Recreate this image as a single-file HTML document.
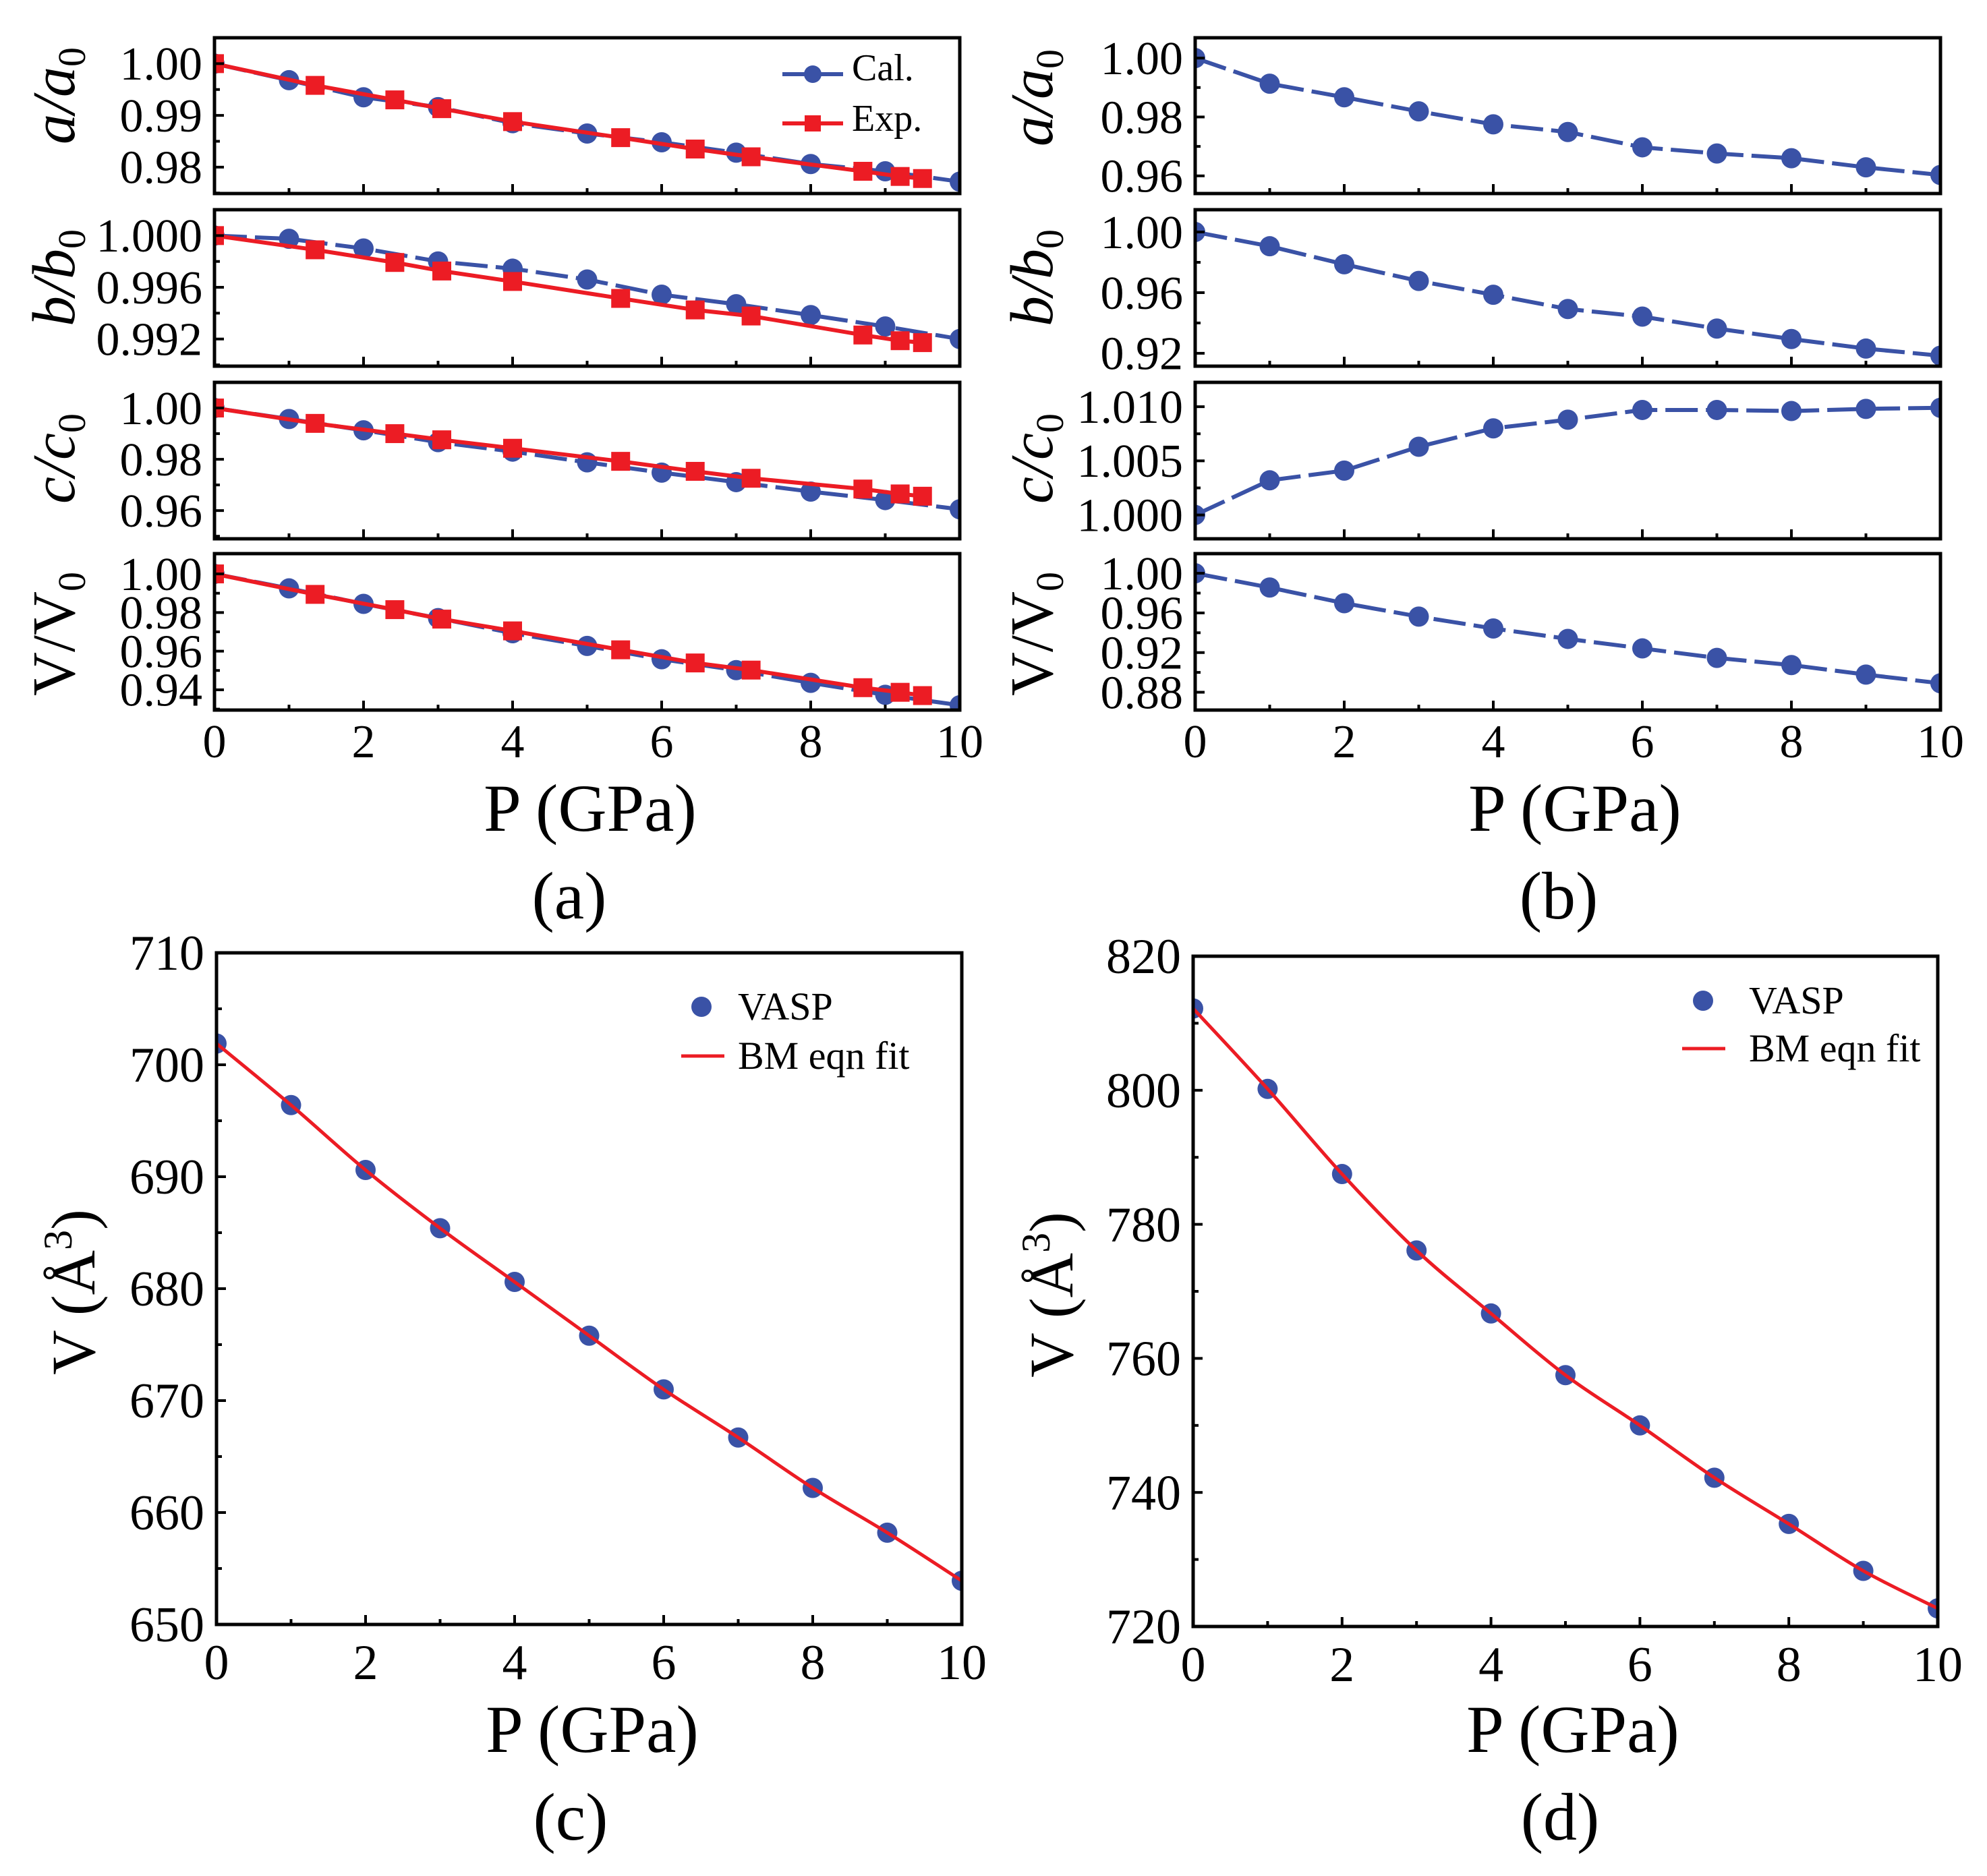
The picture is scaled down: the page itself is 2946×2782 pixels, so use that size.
<!DOCTYPE html>
<html><head><meta charset="utf-8">
<style>
html,body{margin:0;padding:0;background:#fff;}
svg{display:block;font-family:"Liberation Serif","DejaVu Serif",serif;}
</style></head>
<body>
<svg id="fig" width="2946" height="2782" viewBox="0 0 2946 2782" xmlns="http://www.w3.org/2000/svg"></svg>
<script>
// ---- data ----
const xCal = [0,1,2,3,4,5,6,7,8,9,10];
const xExp = [0,1.35,2.42,3.05,4.0,5.45,6.45,7.2,8.7,9.2,9.5];
const aCal = [1.000,0.9968,0.9935,0.9916,0.9885,0.9865,0.9848,0.9828,0.9806,0.9792,0.9772];
const aExp = [1.000,0.9958,0.9930,0.9913,0.9888,0.9857,0.9835,0.9820,0.9792,0.9782,0.9778];
const bCal = [1.000,0.99975,0.9990,0.9980,0.99744,0.9966,0.99543,0.99469,0.99385,0.99297,0.9920];
const bExp = [1.000,0.9989,0.99792,0.99726,0.99645,0.99514,0.99425,0.99378,0.99231,0.99187,0.99172];
const cCal = [1.000,0.9957,0.9913,0.9867,0.9830,0.9788,0.9748,0.9711,0.9674,0.9641,0.9605];
const cExp = [1.000,0.9940,0.9900,0.9876,0.9843,0.9792,0.9753,0.9726,0.9684,0.9665,0.9656];
const vCal = [1.000,0.9925,0.9845,0.9771,0.9693,0.9627,0.9558,0.9502,0.9436,0.9374,0.9320];
const vExp = [1.000,0.9894,0.9815,0.9766,0.9705,0.9607,0.9539,0.9502,0.9411,0.9387,0.9370];
const a2Cal = [1.000,0.9913,0.9867,0.9819,0.9775,0.9749,0.9697,0.9676,0.9660,0.9629,0.9603];
const b2Cal = [1.000,0.9906,0.9787,0.9677,0.9586,0.9492,0.9442,0.9363,0.9294,0.9231,0.9184];
const c2Cal = [1.000,1.0032,1.0041,1.0063,1.0080,1.0088,1.0097,1.0097,1.0096,1.0098,1.0099];
const v2Cal = [1.000,0.9856,0.9698,0.9563,0.9443,0.9338,0.9242,0.9146,0.9074,0.8978,0.8890];
const volC = [701.9,696.4,690.6,685.4,680.6,675.8,671.0,666.7,662.2,658.2,653.9];
const volD = [812.2,800.2,787.5,776.1,766.7,757.5,750.0,742.2,735.3,728.3,722.7];
const xTicks = [0,2,4,6,8,10];
const xTickLabels = ["0","2","4","6","8","10"];

const NS = "http://www.w3.org/2000/svg";
const svg = document.getElementById('fig');
const BLUE = "#3a52a6", RED = "#ec1c24";
function el(tag, attrs, parent){
  const e = document.createElementNS(NS, tag);
  for (const k in attrs) e.setAttribute(k, attrs[k]);
  (parent||svg).appendChild(e);
  return e;
}
function smoothPath(pts){
  let d = "M"+pts[0][0]+","+pts[0][1];
  for (let i=0;i<pts.length-1;i++){
    const p0=pts[Math.max(i-1,0)], p1=pts[i], p2=pts[i+1], p3=pts[Math.min(i+2,pts.length-1)];
    const c1x=p1[0]+(p2[0]-p0[0])/6, c1y=p1[1]+(p2[1]-p0[1])/6;
    const c2x=p2[0]-(p3[0]-p1[0])/6, c2y=p2[1]-(p3[1]-p1[1])/6;
    d += " C"+c1x+","+c1y+" "+c2x+","+c2y+" "+p2[0]+","+p2[1];
  }
  return d;
}

function panel(cfg){
  const g = el('g', {});
  
  
  const X = v => cfg.x0 + (v-0)/(10-0)*(cfg.x1-cfg.x0);
  const Y = v => cfg.y1 - (v-cfg.ymin)/(cfg.ymax-cfg.ymin)*(cfg.y1-cfg.y0);
  const clipId = 'clip-'+cfg.name;
  const cp = el('clipPath', {id: clipId}, g);
  el('rect', {x:cfg.x0, y:cfg.y0, width:cfg.x1-cfg.x0, height:cfg.y1-cfg.y0}, cp);
  const plot = el('g', {'clip-path':'url(#'+clipId+')'}, g);
  (cfg.series||[]).forEach(s=>{
    const pts = s.x.map((xv,i)=>[X(xv),Y(s.y[i])]);
    const sg = el('g', {}, plot);
    
    
    if (s.line){
      const ln = el('path', {d: s.smooth? smoothPath(pts) : "M"+pts.map(p=>p.join(",")).join(" L"), fill:'none', stroke:s.color, 'stroke-width':s.lw||6, 'stroke-dasharray': s.dash||'none'}, sg);
      
      
    }
    if (s.marker){
      pts.forEach(p=>{
        let m;
        if (s.marker==='circle') m = el('circle', {cx:p[0], cy:p[1], r:s.ms||15, fill:s.color}, sg);
        else m = el('rect', {x:p[0]-(s.ms||14), y:p[1]-(s.ms||14), width:2*(s.ms||14), height:2*(s.ms||14), fill:s.color}, sg);
        
        
      });
    }
  });
  const fr = el('rect', {x:cfg.x0, y:cfg.y0, width:cfg.x1-cfg.x0, height:cfg.y1-cfg.y0, fill:'none', stroke:'#000', 'stroke-width':5}, g);
  
  
  for (let v=0; v<=10; v++){
    const len = (v%2===0)?14:8;
    el('line', {x1:X(v), x2:X(v), y1:cfg.y1, y2:cfg.y1-len, stroke:'#000', 'stroke-width':4}, g);
  }
  if (cfg.xlabels){
    xTicks.forEach((v,i)=>{
      const t = el('text', {x:X(v), y:cfg.xlabY, 'font-size':cfg.tickFs, 'text-anchor':'middle'}, g);
      t.textContent = xTickLabels[i];
      
      
    });
  }
  cfg.yMajor.forEach((v,i)=>{
    el('line', {x1:cfg.x0, x2:cfg.x0+14, y1:Y(v), y2:Y(v), stroke:'#000', 'stroke-width':4}, g);
    const t = el('text', {x:cfg.x0-18, y:Y(v)+cfg.tickFs*0.34, 'font-size':cfg.tickFs, 'text-anchor':'end'}, g);
    t.textContent = cfg.yLabels[i];
    
    
  });
  (cfg.yMinor||[]).forEach(v=>{
    el('line', {x1:cfg.x0, x2:cfg.x0+8, y1:Y(v), y2:Y(v), stroke:'#000', 'stroke-width':4}, g);
  });
  const yt = el('text', {x:0, y:0, 'font-size':cfg.titleFs, 'text-anchor':'middle', transform:'translate('+cfg.ytX+','+cfg.ytY+') rotate(-90)'}, g);
  yt.innerHTML = cfg.ytitle;
  
  
  return g;
}

const LX0=318, LX1=1423, RX0=1772, RX1=2877;
const rows = [[56,287],[311,543],[567,799],[821,1053]];
const TFS = 70;
const it = s => '<tspan font-style="italic">'+s+'</tspan>';
const sub = s => '<tspan font-size="58" dy="16">'+s+'</tspan>';

function calS(y, name){ return {name:name, x:xCal, y:y, color:BLUE, line:true, dash:'48 12', marker:'circle', ms:15, lw:6}; }
function expS(y, name){ return {name:name, x:xExp, y:y, color:RED, line:true, marker:'square', ms:14, lw:6}; }

panel({name:'panel-a-a', x0:LX0,x1:LX1,y0:rows[0][0],y1:rows[0][1], ymin:0.9749, ymax:1.0050,
  yMajor:[1.00,0.99,0.98], yLabels:["1.00","0.99","0.98"], yMinor:[0.995,0.985,0.975],
  tickFs:TFS, titleFs:90, ytX:110, ytY:142, ytitle: it('a/a')+sub('0'),
  series:[calS(aCal,'cal-a'), expS(aExp,'exp-a')]});
panel({name:'panel-a-b', x0:LX0,x1:LX1,y0:rows[1][0],y1:rows[1][1], ymin:0.9899, ymax:1.0020,
  yMajor:[1.000,0.996,0.992], yLabels:["1.000","0.996","0.992"], yMinor:[0.998,0.994,0.990],
  tickFs:TFS, titleFs:90, ytX:110, ytY:412, ytitle: it('b/b')+sub('0'),
  series:[calS(bCal,'cal-b'), expS(bExp,'exp-b')]});
panel({name:'panel-a-c', x0:LX0,x1:LX1,y0:rows[2][0],y1:rows[2][1], ymin:0.949, ymax:1.010,
  yMajor:[1.00,0.98,0.96], yLabels:["1.00","0.98","0.96"], yMinor:[0.99,0.97,0.95],
  tickFs:TFS, titleFs:90, ytX:110, ytY:680, ytitle: it('c/c')+sub('0'),
  series:[calS(cCal,'cal-c'), expS(cExp,'exp-c')]});
panel({name:'panel-a-v', x0:LX0,x1:LX1,y0:rows[3][0],y1:rows[3][1], ymin:0.9295, ymax:1.0105,
  yMajor:[1.00,0.98,0.96,0.94], yLabels:["1.00","0.98","0.96","0.94"], yMinor:[0.99,0.97,0.95,0.93],
  tickFs:TFS, titleFs:90, ytX:110, ytY:940, ytitle: 'V/V'+sub('0'),
  series:[calS(vCal,'cal-v'), expS(vExp,'exp-v')], xlabels:true, xlabY:1123});

panel({name:'panel-b-a', x0:RX0,x1:RX1,y0:rows[0][0],y1:rows[0][1], ymin:0.954, ymax:1.0069,
  yMajor:[1.00,0.98,0.96], yLabels:["1.00","0.98","0.96"], yMinor:[0.99,0.97],
  tickFs:TFS, titleFs:90, ytX:1560, ytY:145, ytitle: it('a/a')+sub('0'),
  series:[calS(a2Cal,'cal-a2')]});
panel({name:'panel-b-b', x0:RX0,x1:RX1,y0:rows[1][0],y1:rows[1][1], ymin:0.9115, ymax:1.0147,
  yMajor:[1.00,0.96,0.92], yLabels:["1.00","0.96","0.92"], yMinor:[0.98,0.94],
  tickFs:TFS, titleFs:90, ytX:1560, ytY:412, ytitle: it('b/b')+sub('0'),
  series:[calS(b2Cal,'cal-b2')]});
panel({name:'panel-b-c', x0:RX0,x1:RX1,y0:rows[2][0],y1:rows[2][1], ymin:0.9978, ymax:1.01225,
  yMajor:[1.010,1.005,1.000], yLabels:["1.010","1.005","1.000"], yMinor:[1.0075,1.0025],
  tickFs:TFS, titleFs:90, ytX:1560, ytY:680, ytitle: it('c/c')+sub('0'),
  series:[calS(c2Cal,'cal-c2')]});
panel({name:'panel-b-v', x0:RX0,x1:RX1,y0:rows[3][0],y1:rows[3][1], ymin:0.862, ymax:1.0198,
  yMajor:[1.00,0.96,0.92,0.88], yLabels:["1.00","0.96","0.92","0.88"], yMinor:[0.98,0.94,0.90],
  tickFs:TFS, titleFs:90, ytX:1560, ytY:940, ytitle: 'V/V'+sub('0'),
  series:[calS(v2Cal,'cal-v2')], xlabels:true, xlabY:1123});

panel({name:'panel-c', x0:321,x1:1426,y0:1413,y1:2409, ymin:650, ymax:710,
  yMajor:[710,700,690,680,670,660,650], yLabels:["710","700","690","680","670","660","650"], yMinor:[705,695,685,675,665,655],
  tickFs:74, titleFs:92, ytX:140, ytY:1916, ytitle: 'V (Å<tspan font-size="60" dy="-34">3</tspan><tspan dy="34">)</tspan>',
  series:[{name:'vasp-c', x:xCal, y:volC, color:BLUE, marker:'circle', ms:15},
          {name:'bm-fit-c', x:xCal, y:volC, color:RED, line:true, smooth:true, lw:5}],
  xlabels:true, xlabY:2490});
panel({name:'panel-d', x0:1769,x1:2873,y0:1418,y1:2412, ymin:720, ymax:820,
  yMajor:[820,800,780,760,740,720], yLabels:["820","800","780","760","740","720"], yMinor:[810,790,770,750,730],
  tickFs:74, titleFs:92, ytX:1590, ytY:1920, ytitle: 'V (Å<tspan font-size="60" dy="-34">3</tspan><tspan dy="34">)</tspan>',
  series:[{name:'vasp-d', x:xCal, y:volD, color:BLUE, marker:'circle', ms:15},
          {name:'bm-fit-d', x:xCal, y:volD, color:RED, line:true, smooth:true, lw:5}],
  xlabels:true, xlabY:2493});

function txt(x,y,fs,s,name,anchor){
  const t = el('text', {x:x, y:y, 'font-size':fs, 'text-anchor':anchor||'middle'});
  t.textContent = s;
  
  
  return t;
}
txt(875,1232,100,'P (GPa)','x-axis-title-a');
txt(2335,1232,100,'P (GPa)','x-axis-title-b');
txt(844,1362,100,'(a)','panel-label-a');
txt(2311,1362,100,'(b)','panel-label-b');
txt(878,2598,100,'P (GPa)','x-axis-title-c');
txt(2332,2598,100,'P (GPa)','x-axis-title-d');
txt(846,2728,100,'(c)','panel-label-c');
txt(2313,2728,100,'(d)','panel-label-d');

const lg = el('g', {});


el('line', {x1:1160,x2:1250,y1:110,y2:110,stroke:BLUE,'stroke-width':6}, lg);
el('circle', {cx:1205, cy:110, r:13, fill:BLUE}, lg);
el('line', {x1:1160,x2:1250,y1:183,y2:183,stroke:RED,'stroke-width':6}, lg);
el('rect', {x:1193, y:171, width:24, height:24, fill:RED}, lg);
const t1 = el('text', {x:1263, y:119, 'font-size':56}, lg); t1.textContent='Cal.';
 
const t2 = el('text', {x:1263, y:194, 'font-size':56}, lg); t2.textContent='Exp.';
 

function legVol(dx, dy, lx0, lx1, ly, tx, name){
  const g = el('g', {});
  
  
  el('circle', {cx:dx, cy:dy, r:15, fill:BLUE}, g);
  const a = el('text', {x:tx, y:dy+19, 'font-size':58}, g); a.textContent='VASP';
   
  el('line', {x1:lx0, x2:lx1, y1:ly, y2:ly, stroke:RED, 'stroke-width':5}, g);
  const b = el('text', {x:tx, y:ly+19, 'font-size':58}, g); b.textContent='BM eqn fit';
   
}
legVol(1040,1493,1010,1074,1566,1094,'legend-c');
legVol(2525,1484,2494,2558,1555,2593,'legend-d');
</script>
</body></html>
